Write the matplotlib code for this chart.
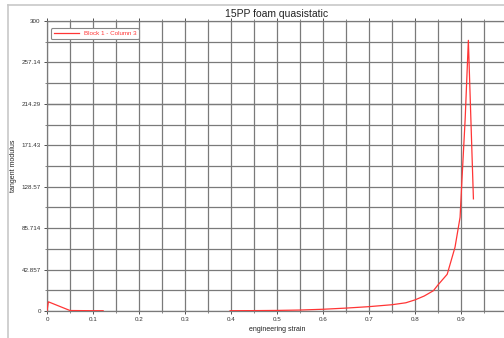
import numpy as np
import matplotlib
matplotlib.use("Agg")
import matplotlib.pyplot as plt
from matplotlib.lines import Line2D
from matplotlib.ticker import FixedLocator, MultipleLocator

# data
strain_a = [0.0, 0.003, 0.05, 0.10, 0.122]
modulus_a = [0.0, 9.5, 0.5, 0.3, 0.3]
strain_b = [0.398, 0.45, 0.50, 0.55, 0.60, 0.65, 0.70, 0.75, 0.78, 0.80,
            0.82, 0.84, 0.85, 0.87, 0.887, 0.898, 0.902, 0.909, 0.916, 0.927]
modulus_b = [0.3, 0.4, 0.6, 1.0, 1.8, 3.0, 4.5, 6.5, 8.5, 11.5,
             15.5, 21, 27, 38, 66, 97, 135, 198, 280, 116]
yticks = [0, 42.857, 85.714, 128.57, 171.43, 214.29, 257.14, 300]
ytick_labels = ["0", "42.857", "85.714", "128.57", "171.43", "214.29", "257.14", "300"]
xticks = [0, 0.1, 0.2, 0.3, 0.4, 0.5, 0.6, 0.7, 0.8, 0.9]
xtick_labels = ["0", "0.1", "0.2", "0.3", "0.4", "0.5", "0.6", "0.7", "0.8", "0.9"]

plt.rcParams['font.family'] = ['Liberation Sans', 'DejaVu Sans']

W, H = 504, 338
fig = plt.figure(figsize=(W / 100, H / 100), dpi=100)
fig.patch.set_facecolor('white')

# outer frame lines
fig.add_artist(Line2D([8 / W, 8 / W], [0, 1 - 5 / H], color='#c8c8c8', lw=1.2, transform=fig.transFigure))
fig.add_artist(Line2D([8 / W, 1], [1 - 5 / H, 1 - 5 / H], color='#c8c8c8', lw=1.2, transform=fig.transFigure))

left, right, top, bottom = 47, 507, 21, 311
ax = fig.add_axes([left / W, 1 - bottom / H, (right - left) / W, (bottom - top) / H])

red = '#ff3535'
x_all = strain_a + [np.nan] + strain_b
y_all = modulus_a + [np.nan] + modulus_b
ax.plot(x_all, y_all, color=red, lw=0.9, label='Block 1 - Column 3', zorder=3)

ax.set_xlim(0, 1.0)
ax.set_ylim(0, 300)
ax.xaxis.set_major_locator(FixedLocator(xticks))
ax.set_xticklabels(xtick_labels)
ax.xaxis.set_minor_locator(MultipleLocator(0.05))
ax.yaxis.set_major_locator(FixedLocator(yticks))
ax.set_yticklabels(ytick_labels)
ax.yaxis.set_minor_locator(FixedLocator([300 / 14 * k for k in range(15)]))

grid_c = '#7a7a7a'
ax.grid(True, which='both', color=grid_c, lw=0.9)
ax.set_axisbelow(True)
for s in ax.spines.values():
    s.set_color(grid_c)
    s.set_linewidth(0.9)

ax.tick_params(axis='both', which='major', labelsize=4.5, colors='#333333', length=2.5, width=0.6, pad=2)
ax.tick_params(axis='both', which='minor', length=1.5, width=0.5, colors='#555555')
ax.tick_params(axis='x', top=True, which='both', direction='out')

ax.set_title('15PP foam quasistatic', fontsize=7.5, color='#222222', pad=3)
ax.set_xlabel('engineering strain', fontsize=5, color='#222222', labelpad=3)
ax.set_ylabel('tangent modulus', fontsize=5, color='#222222')
ax.yaxis.set_label_coords((17 - left) / (right - left), 0.5)

leg = ax.legend(loc='upper left', fontsize=4.5, frameon=True, fancybox=True,
                edgecolor='#888888', handlelength=4, borderpad=0.4,
                bbox_to_anchor=(0.002, 0.985), framealpha=1)
for t in leg.get_texts():
    t.set_color(red)
leg.get_frame().set_linewidth(0.8)

fig.savefig('out.png', dpi=100)
